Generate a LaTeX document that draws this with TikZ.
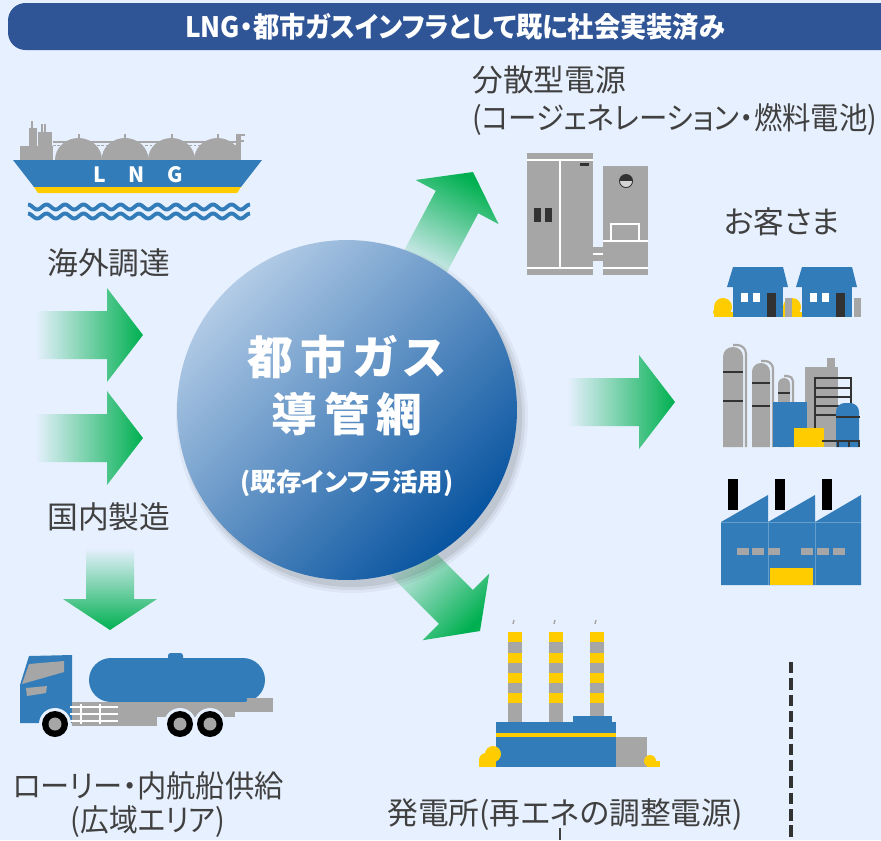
\documentclass[tikz,border=0pt]{standalone}
\usepackage{fontspec}
\setmainfont{Noto Sans CJK JP}[RawFeature=+palt]
\usetikzlibrary{positioning}

\definecolor{bgBlue}{RGB}{231,240,254}
\definecolor{titleBlue}{RGB}{47,85,151}
\definecolor{iconBlue}{RGB}{50,125,185}
\definecolor{iconGray}{RGB}{166,166,166}
\definecolor{iconYellow}{RGB}{255,204,0}
\definecolor{iconDark}{RGB}{50,50,50}
\definecolor{arrowGreen}{RGB}{0,176,80}
\definecolor{labelGray}{RGB}{64,64,64}
\definecolor{netLight}{RGB}{178,203,230}
\definecolor{netDark}{RGB}{8,84,160}

\tikzset{
  labeltext/.style={inner sep=0pt, text=labelGray, font=\fontsize{17.5}{21}\selectfont},
  titletext/.style={inner sep=0pt, text=white, font=\fontsize{16}{19}\selectfont\bfseries},
  nettext/.style={inner sep=0pt, text=white, font=\fontsize{26}{30}\selectfont\bfseries},
  notetext/.style={inner sep=0pt, text=white, font=\fontsize{14.5}{17}\selectfont\bfseries},
}

% squeeze a text to a given width, keeping its height
\newcommand{\squeeze}[2]{\resizebox{#1}{\height}{#2}}

% block arrow: #1 tip, #2 direction, #3 shading angle, #4 length, #5 head length
\newcommand{\fatarrow}[5]{%
  \shade[top color=arrowGreen, bottom color=bgBlue, shading angle=#3, shift={#1}, rotate=#2]
    (0,0) -- (-#5,47) -- (-#5,24) -- (-#4,24) -- (-#4,-24) -- (-#5,-24) -- (-#5,-47) -- cycle;}

\begin{document}
\begin{tikzpicture}[x=0.02cm, y=-0.02cm]
\useasboundingbox (0,0) rectangle (881,840);
\clip (0,0) rectangle (881,840);
\fill[bgBlue] (0,0) rectangle (881,840);

% title bar
\fill[titleBlue, rounded corners=10pt] (8,3) rectangle (910,50);
\node[titletext] (title) at (455,27) {\squeeze{10.8cm}{LNG・都市ガスインフラとして既に社会実装済み}};

% green arrows
\fatarrow{(143,335)}{0}{-90}{108}{36}
\fatarrow{(143,438)}{0}{-90}{108}{36}
\fatarrow{(110,630)}{-90}{-180}{82}{31}
\fatarrow{(675,402)}{0}{-90}{108}{36}
\fatarrow{(473,172)}{62}{-28}{115}{34}
\fatarrow{(480,631)}{-45}{-135}{115}{34}

% gas network
\foreach \r/\o in {176/.04, 173/.06, 170/.08}
  \fill[black, opacity=\o] (352,417) circle (\r);
\node[circle, minimum size=6.8cm, top color=netLight, bottom color=netDark, shading angle=45] (net) at (347,410) {};
\node[nettext] (netName) at (347,357) {都\hspace{4pt}市\hspace{4pt}ガ\hspace{4pt}ス};
\node[nettext] (netPipe) at (347,414) {導\hspace{4pt}管\hspace{4pt}網};
\node[notetext] (netNote) at (347,483) {(既存インフラ活用)};

% LNG carrier
\fill[iconGray] (20,146) rectangle (53,160);
\fill[iconGray] (29,128) rectangle (37,146);
\fill[iconGray] (38,132) rectangle (52,146);
\draw[iconGray, line width=0.8pt] (32,121) -- (32,128) (42,124) -- (42,132) (45,124) -- (45,132);
\draw[iconGray, line width=1pt] (53,142) -- (240,142);
\draw[iconGray, line width=0.6pt, dash pattern=on 1.5pt off 1pt] (53,145.5) -- (240,145.5);
\foreach \cx in {78.5,125,171.5,217.5}{
  \fill[iconGray] (\cx-23.5,160) arc[start angle=180, end angle=360, x radius=23.5, y radius=22];
  \fill[iconGray] (\cx-1,134) rectangle (\cx+1,140);
}
\fill[iconGray] (236,134) rectangle (241,160);
\fill[iconGray] (241,134) rectangle (245,136);
\fill[iconGray] (241,140) rectangle (244,142);
\fill[iconBlue] (13,160) -- (262,160) -- (241,187) -- (34,187) -- cycle;
\fill[iconYellow] (34,187) -- (241,187) -- (237,193) -- (38,193) -- cycle;
\foreach \ch/\lx in {L/100,N/137,G/175}
  \node[inner sep=0pt, text=white, font=\fontsize{12}{14}\selectfont\bfseries] at (\lx,175) {\ch};
\foreach \wy in {207,216}
  \draw[iconBlue, line width=2.2pt] plot[domain=28:250, samples=160, smooth] (\x, {\wy - 2.5*cos((\x-28)/18.5*360)});
\node[labeltext, anchor=west] (overseas) at (47,263) {海外調達};
\node[labeltext, anchor=west] (domestic) at (47,517) {国内製造};

% distributed generation unit
\fill[iconGray] (527,153) rectangle (593,275);
\draw[white, line width=1.2pt] (527,160) -- (593,160) (527,268) -- (593,268) (560,160) -- (560,268);
\fill[iconDark] (534,208) rectangle (541,222);
\fill[iconDark] (545,208) rectangle (552,222);
\fill[iconDark] (580,163) rectangle (589,166);
\fill[iconGray] (603,166) rectangle (648,275);
\fill[iconGray] (593,247) rectangle (603,261);
\draw[white, line width=1.2pt] (593,254) -- (603,254) (603,241) -- (648,241) (603,268) -- (648,268);
\draw[white, line width=1.2pt] (611,241) -- (611,224) -- (639,224) -- (639,241);
\fill[iconDark] (626,181) circle (7);
\fill[iconGray!50!white] (620,181) arc[start angle=180, end angle=0, radius=6] -- cycle;
\node[labeltext, anchor=west] (dgName) at (472,80) {分散型電源};
\node[labeltext, anchor=west] (dgNote) at (472,120) {\squeeze{8.1cm}{(コージェネレーション・燃料電池)}};

% customers: houses (bushes first, houses on top)
\foreach \dx in {0,69}{
  \fill[iconYellow] (723+\dx,307) circle (9);
  \fill[iconYellow] (718+\dx,312) circle (5);
  \fill[iconYellow] (714+\dx,312) rectangle (733+\dx,317);
}
\foreach \dx in {0,69}{
  \fill[iconBlue] (733+\dx,267) -- (783+\dx,267) -- (788+\dx,287) -- (727+\dx,287) -- cycle;
  \fill[iconBlue] (733+\dx,287) rectangle (783+\dx,317);
  \fill[white] (741+\dx,293) rectangle (748+\dx,302);
  \fill[white] (753+\dx,293) rectangle (760+\dx,302);
  \fill[iconDark] (767+\dx,293) rectangle (776+\dx,317);
  \fill[iconGray] (785+\dx,298) rectangle (792+\dx,317);
}
\node[labeltext] (customers) at (782,222) {お客さま};

% customers: plant
\fill[iconGray, rounded corners=5.5pt] (723,447) -- (723,347) -- (743,347) -- (743,447);
\draw[iconGray, line width=1.2pt, rounded corners=5pt] (733,345) -- (746,345) -- (746,447);
\fill[iconGray, rounded corners=5pt] (752,447) -- (752,363) -- (770,363) -- (770,447);
\draw[iconGray, line width=1.2pt, rounded corners=4.5pt] (761,361) -- (773,361) -- (773,447);
\fill[iconGray, rounded corners=3.4pt] (778,447) -- (778,378) -- (790,378) -- (790,447);
\draw[iconGray, line width=1.2pt, rounded corners=3pt] (784,376) -- (793,376) -- (793,447);
\draw[iconDark, line width=1.5pt] (723,372) -- (743,372) (723,401) -- (743,401)
  (752,383) -- (770,383) (752,406) -- (770,406) (778,393) -- (790,393);
\fill[iconGray] (805,367) rectangle (838,447);
\fill[iconGray] (827,358) rectangle (835,367);
\fill[iconBlue] (773,402) rectangle (807,447);
\fill[iconYellow] (794,428) rectangle (824,447);
\draw[iconDark, line width=1.5pt] (815,428) -- (815,378) -- (851,378) -- (851,418)
  (815,388) -- (851,388) (815,397) -- (851,397) (815,406) -- (851,406) (815,415) -- (836,415);
\fill[iconBlue, rounded corners=5pt] (836,447) -- (836,403) -- (859,403) -- (859,447);
\draw[iconDark, line width=1.5pt] (836,417) -- (860,417) (822,441) -- (860,441)
  (838,441) -- (838,447) (849,441) -- (849,447) (859,441) -- (859,447);

% customers: factory
\foreach \cx in {728,775,822}
  \fill[black] (\cx,479) rectangle (\cx+10,510);
\fill[iconBlue] (721,585) -- (721,522) -- (768,495) -- (768,522) -- (815,495) -- (815,522)
  -- (861,495) -- (861,585) -- cycle;
\draw[iconBlue!75!white, line width=0.5pt] (721,522) -- (861,522) (768,522) -- (768,585) (815,522) -- (815,585);
\foreach \wx in {737,752,768,801,817,833}
  \fill[iconGray] (\wx,548) rectangle (\wx+12,555);
\fill[iconYellow] (770,568) rectangle (813,585);

% tanker truck
\fill[iconBlue] (20,723) -- (20,685) -- (29,656) -- (72,655) -- (72,723) -- cycle;
\fill[iconGray] (22,684) -- (29,664) -- (64,661) -- (64,672) -- cycle;
\fill[iconGray] (26,688) -- (47,686) -- (46,693) -- (27,696) -- cycle;
\fill[iconBlue, rounded corners=12.5pt] (89,658) rectangle (265,702);
\fill[iconBlue, rounded corners=1.5pt] (168,653) rectangle (183,661);
\fill[iconGray] (72,702) rectangle (273,712);
\fill[iconGray] (72,712) rectangle (157,726);
\fill[iconGray] (247,698) rectangle (273,712);
\fill[iconGray] (157,712) rectangle (235,717);
\draw[white, line width=0.8pt] (81,704) -- (81,724) (100,704) -- (100,724)
  (70,707) -- (118,707) (70,714) -- (118,714) (70,721) -- (118,721);
\foreach \wx in {55,180,210}{
  \fill[bgBlue] (\wx,724) circle (16);
  \fill[black] (\wx,724) circle (13);
  \fill[iconGray] (\wx,724) circle (6.5);
}
\node[labeltext] (lorry) at (148,786) {\squeeze{5.42cm}{ローリー・内航船供給}};
\node[labeltext] (lorryArea) at (148,822) {\squeeze{3.1cm}{(広域エリア)}};

% power station
\foreach \sx in {508,549,590}{
  \fill[iconGray] (\sx,632) rectangle (\sx+14,722);
  \foreach \by in {632,653,673,693}
    \fill[iconYellow] (\sx,\by) rectangle (\sx+14,\by+10);
  \draw[iconGray, line width=0.8pt] (\sx+6,620) -- (\sx+5,624);
}
\fill[iconBlue] (573,716) rectangle (612,722);
\fill[iconBlue] (496,722) rectangle (616,767);
\fill[iconYellow] (496,733) rectangle (616,737);
\fill[iconGray] (616,737) rectangle (647,767);
\fill[iconYellow] (493,754) circle (8);
\fill[iconYellow] (486,760) circle (7);
\fill[iconYellow] (479,760) rectangle (496,767);
\fill[iconYellow] (650,761) circle (6);
\fill[iconYellow] (647,761) rectangle (660,767);
\node[labeltext] (plant) at (565,815) {発電所(再エネの調整電源)};
\coordinate (plantLink) at (560,840);
\draw[labelGray, line width=1.6pt] (plant.south -| plantLink) ++(0,-3) -- (plantLink);

% boundary line
\coordinate (edgeTop) at (791,662);
\coordinate (edgeEnd) at (791,840);
\draw[iconDark, line width=2.3pt, dash pattern=on 6.5pt off 2.8pt] (edgeTop) -- (edgeEnd);
\end{tikzpicture}
\end{document}
